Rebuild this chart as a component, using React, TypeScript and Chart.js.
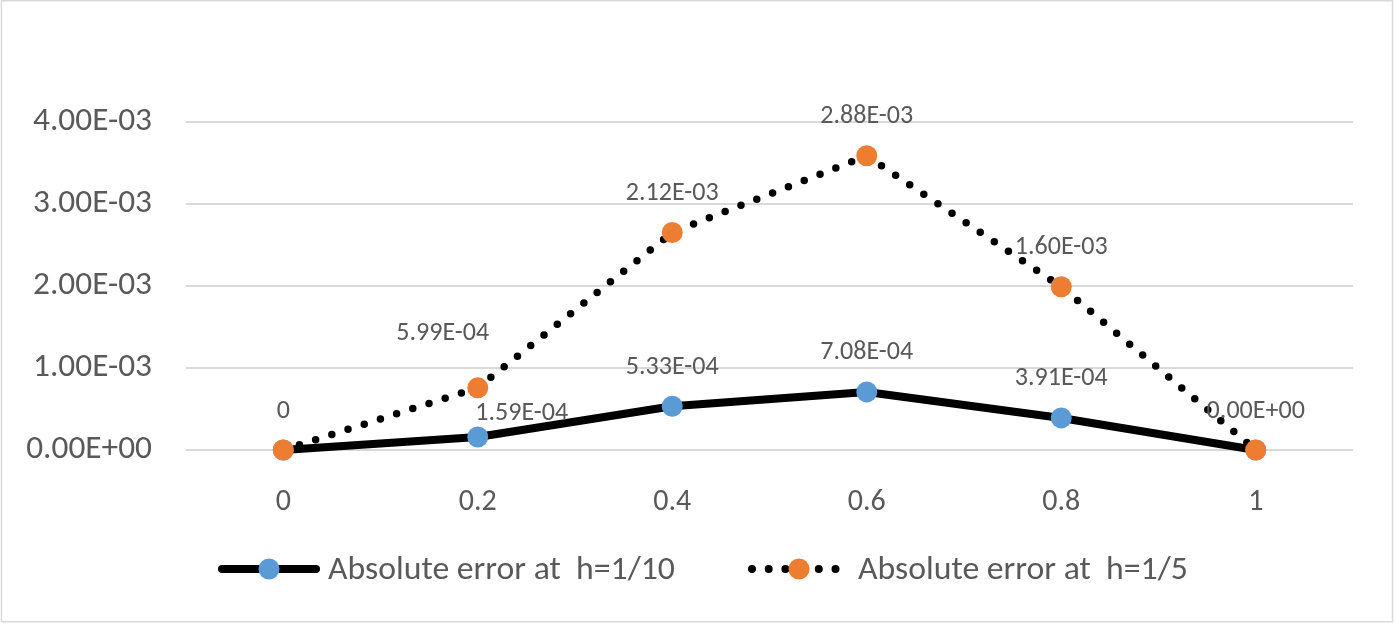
import React, { useEffect, useRef } from "react";
import { Chart, registerables } from "chart.js";

Chart.register(...registerables);

// ---- data ----
const xLabels = ["0", "0.2", "0.4", "0.6", "0.8", "1"];
const errH10 = [0, 1.59e-4, 5.33e-4, 7.08e-4, 3.91e-4, 0];
const errH5 = [0, 5.99e-4, 2.12e-3, 2.88e-3, 1.6e-3, 0];
const yTicks = [0, 1e-3, 2e-3, 3e-3, 4e-3];
const seriesNames = ["Absolute error at  h=1/10", "Absolute error at  h=1/5"];
const h10LabelShown = [false, true, true, true, true, false];

function fmtE(v: number): string {
  const [m, e] = v.toExponential(2).split("e");
  const n = parseInt(e, 10);
  const sign = n < 0 ? "-" : "+";
  const abs = Math.abs(n).toString().padStart(2, "0");
  return `${m.toUpperCase()}E${sign}${abs}`;
}

const h10LabelText = errH10.map((v, i) => (h10LabelShown[i] ? fmtE(v) : ""));
const h5LabelText = errH5.map((v, i) => (i === 0 ? String(v) : fmtE(v)));

// ---- styling ----
const FAMILY = 'Carlito, "Liberation Sans", Arial, sans-serif';
const TEXT = "#595959";
const BLUE = "#5B9BD5";
const ORANGE = "#ED7D31";
const GRID = "#D9D9D9";

function fitSize(text: string, targetW: number): number {
  const c = document.createElement("canvas").getContext("2d")!;
  c.font = `100px ${FAMILY}`;
  return (100 * targetW) / c.measureText(text).width;
}

const LABEL_DY = -41;
const h10Offsets: Record<number, [number, number]> = { 1: [44, -25] };
const h5Offsets: Record<number, [number, number]> = { 1: [-35, -56] };

function drawCenteredText(ctx: CanvasRenderingContext2D, text: string, x: number, cy: number, align: CanvasTextAlign) {
  ctx.textAlign = align;
  ctx.textBaseline = "alphabetic";
  const asc = ctx.measureText("0").actualBoundingBoxAscent;
  ctx.fillText(text, x, cy + asc / 2);
}

export default function App() {
  const ref = useRef<HTMLCanvasElement | null>(null);

  useEffect(() => {
    const canvas = ref.current!;
    const axisSize = fitSize("4.00E-03", 119);
    const xSize = fitSize("0.2", 38);
    const labelSize = fitSize("1.60E-03", 93);
    const legendSize = fitSize(seriesNames[0], 347);

    const overlay = {
      id: "overlay",
      beforeDraw(chart: any) {
        const ctx = chart.ctx;
        ctx.save();
        ctx.fillStyle = "#ffffff";
        ctx.fillRect(0, 0, chart.width, chart.height);
        ctx.strokeStyle = GRID;
        ctx.lineWidth = 1.5;
        ctx.strokeRect(1.5, 0.75, 1391, 621);
        ctx.restore();
      },
      // the stacked (h=1/5) series is drawn after the base series so its markers sit on top
      beforeDatasetDraw(chart: any, args: any) {
        if (args.index === 1 && !chart.$drawingTop) return false;
      },
      afterDatasetsDraw(chart: any) {
        chart.$drawingTop = true;
        chart.getDatasetMeta(1).controller.draw();
        chart.$drawingTop = false;
      },
      afterDraw(chart: any) {
        const ctx: CanvasRenderingContext2D = chart.ctx;
        ctx.save();
        ctx.fillStyle = TEXT;
        ctx.font = `${labelSize}px ${FAMILY}`;
        const sets: [number, string[], Record<number, [number, number]>][] = [
          [0, h10LabelText, h10Offsets],
          [1, h5LabelText, h5Offsets],
        ];
        for (const [di, texts, offs] of sets) {
          const meta = chart.getDatasetMeta(di);
          meta.data.forEach((pt: any, i: number) => {
            const t = texts[i];
            if (!t) return;
            const [dx, dy] = offs[i] || [0, LABEL_DY];
            drawCenteredText(ctx, t, pt.x + dx, pt.y + dy, "center");
          });
        }

        // legend
        const ly = 569;
        ctx.lineCap = "round";
        ctx.strokeStyle = "#000000";
        ctx.lineWidth = 8;
        ctx.beginPath();
        ctx.moveTo(222, ly);
        ctx.lineTo(316, ly);
        ctx.stroke();
        ctx.fillStyle = BLUE;
        ctx.beginPath();
        ctx.arc(269, ly, 10.5, 0, Math.PI * 2);
        ctx.fill();

        ctx.lineWidth = 8;
        ctx.setLineDash([0, 16.7]);
        ctx.beginPath();
        ctx.moveTo(752, ly);
        ctx.lineTo(840, ly);
        ctx.stroke();
        ctx.setLineDash([]);
        ctx.fillStyle = ORANGE;
        ctx.beginPath();
        ctx.arc(799, ly, 10.5, 0, Math.PI * 2);
        ctx.fill();

        ctx.fillStyle = TEXT;
        ctx.font = `${legendSize}px ${FAMILY}`;
        drawCenteredText(ctx, seriesNames[0], 328, 568, "left");
        drawCenteredText(ctx, seriesNames[1], 858, 568, "left");
        ctx.restore();
      },
    };

    const chart = new Chart(canvas, {
      type: "line",
      data: {
        labels: xLabels,
        datasets: [
          {
            label: seriesNames[0],
            data: errH10,
            borderColor: "#000000",
            borderWidth: 8,
            borderCapStyle: "round",
            borderJoinStyle: "round",
            pointRadius: 10.5,
            pointBorderWidth: 0,
            pointBackgroundColor: BLUE,
            pointBorderColor: BLUE,
            tension: 0,
            clip: false as any,
          },
          {
            label: seriesNames[1],
            data: errH5,
            borderColor: "#000000",
            borderWidth: 7.5,
            borderDash: [0, 17],
            borderCapStyle: "round",
            pointRadius: 10.5,
            pointBorderWidth: 0,
            pointBackgroundColor: ORANGE,
            pointBorderColor: ORANGE,
            tension: 0,
            clip: false as any,
          },
        ],
      },
      options: {
        responsive: false,
        animation: false,
        devicePixelRatio: 1,
        layout: { padding: { left: 0, top: 122, right: 43, bottom: 0 } },
        plugins: {
          legend: { display: false },
          tooltip: { enabled: false },
        },
        scales: {
          x: {
            type: "category",
            offset: true,
            grid: { display: false },
            border: { display: false },
            ticks: {
              color: TEXT,
              font: { family: FAMILY, size: xSize },
              padding: 493 - 450 - xSize * 0.55,
              maxRotation: 0,
            },
            afterFit(scale: any) {
              scale.height = 175;
            },
          },
          y: {
            stacked: true,
            min: 0,
            max: 4e-3,
            border: { display: false },
            grid: { color: GRID, lineWidth: 2, drawTicks: false },
            ticks: {
              color: TEXT,
              font: { family: FAMILY, size: axisSize },
              padding: 34,
              callback: (v: any) => fmtE(Number(v)),
            },
            afterBuildTicks(scale: any) {
              scale.ticks = yTicks.map((v) => ({ value: v }));
            },
            afterFit(scale: any) {
              scale.width = 186;
            },
          },
        },
      },
      plugins: [overlay],
    });
    return () => chart.destroy();
  }, []);

  return (
    <div style={{ position: "fixed", left: 0, top: 0, width: 1396, height: 625, background: "#fff" }}>
      <canvas ref={ref} width={1396} height={625} style={{ display: "block" }} />
    </div>
  );
}
